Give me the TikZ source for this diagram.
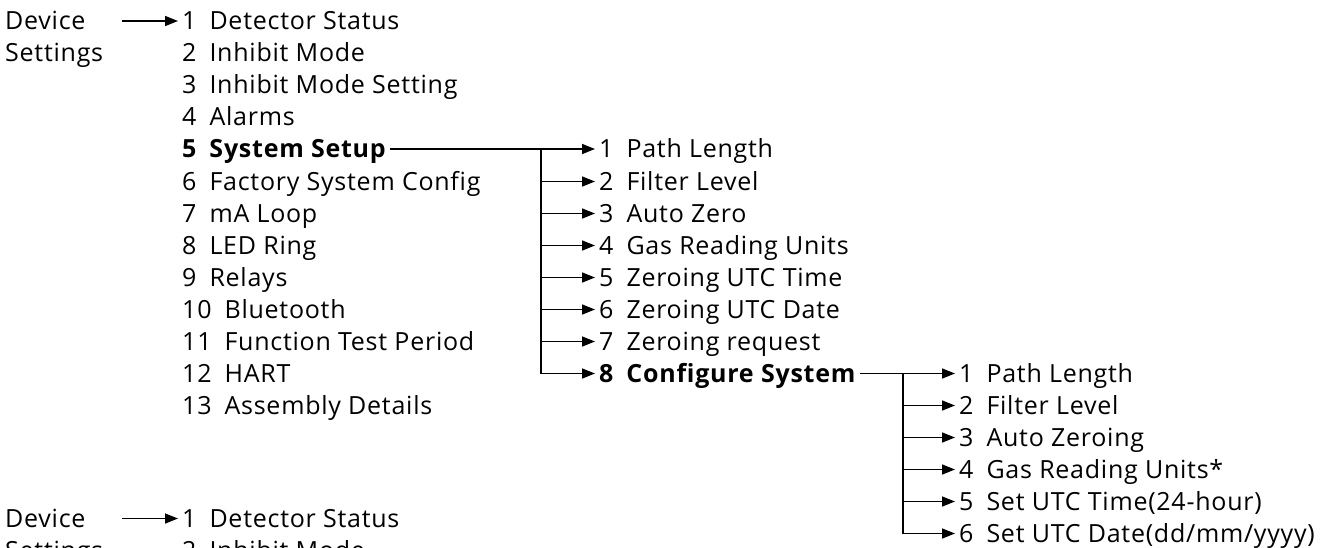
\documentclass[tikz,border=0pt]{standalone}
\usepackage{fontspec}
\setmainfont{Open Sans}[Ligatures=CommonOff,LetterSpace=3]
\usetikzlibrary{arrows.meta}

% number + gap + label
\newcommand{\itm}[2]{#1\hspace{0.52em}#2}

\tikzset{
  menutxt/.style={anchor=base west, inner xsep=4pt, inner ysep=0pt,
    text height=17pt, text depth=0pt, font=\fontsize{25}{30}\selectfont},
  menubold/.style={menutxt, font=\fontsize{25}{30}\selectfont\bfseries},
  link/.style={line width=1.5pt},
}

\begin{document}
\begin{tikzpicture}[x=1pt,y=-1pt,>={Triangle[length=13pt,width=10pt]}]
  \useasboundingbox (0,0) rectangle (1344,547);
  \clip (0,0) rectangle (1344,547);

  % first level
  \node[menutxt] (dev) at (1,29.5) {Device};
  \node[menutxt] (sett) at (1,61.5) {Settings};
  \node[menutxt] (d1) at (178,29.5) {\itm{1}{Detector Status}};
  \node[menutxt] (d2) at (178,61.5) {\itm{2}{Inhibit Mode}};
  \node[menutxt] (d3) at (178,93.5) {\itm{3}{Inhibit Mode Setting}};
  \node[menutxt] (d4) at (178,125.5) {\itm{4}{Alarms}};
  \node[menubold] (ss) at (178,157.5) {\itm{5}{System Setup}};
  \node[menutxt] (d6) at (178,190) {\itm{6}{Factory System Config}};
  \node[menutxt] (d7) at (178,222) {\itm{7}{mA Loop}};
  \node[menutxt] (d8) at (178,254) {\itm{8}{LED Ring}};
  \node[menutxt] (d9) at (178,286) {\itm{9}{Relays}};
  \node[menutxt] (d10) at (178,318) {\itm{10}{Bluetooth}};
  \node[menutxt] (d11) at (178,350) {\itm{11}{Function Test Period}};
  \node[menutxt] (d12) at (178,382) {\itm{12}{HART}};
  \node[menutxt] (d13) at (178,414) {\itm{13}{Assembly Details}};
  \coordinate (a0) at (122,21);
  \draw[link,->] (a0) -- (a0 -| d1.west);

  % System Setup
  \node[menutxt] (p1) at (595,157.5) {\itm{1}{Path Length}};
  \node[menutxt] (p2) at (595,190) {\itm{2}{Filter Level}};
  \node[menutxt] (p3) at (595,222) {\itm{3}{Auto Zero}};
  \node[menutxt] (p4) at (595,254) {\itm{4}{Gas Reading Units}};
  \node[menutxt] (p5) at (595,286) {\itm{5}{Zeroing UTC Time}};
  \node[menutxt] (p6) at (595,318) {\itm{6}{Zeroing UTC Date}};
  \node[menutxt] (p7) at (595,350) {\itm{7}{Zeroing request}};
  \node[menubold] (cs) at (595,382) {\itm{8}{Configure System}};
  \coordinate (j1) at (541,149);
  \draw[link] (ss.east) -- (j1);
  \draw[link,->] (j1) -- (p1.west);
  \draw[link,->] (j1) |- (cs.west);
  \draw[link,->] (j1 |- p2.west) -- (p2.west);
  \draw[link,->] (j1 |- p3.west) -- (p3.west);
  \draw[link,->] (j1 |- p4.west) -- (p4.west);
  \draw[link,->] (j1 |- p5.west) -- (p5.west);
  \draw[link,->] (j1 |- p6.west) -- (p6.west);
  \draw[link,->] (j1 |- p7.west) -- (p7.west);

  % Configure System
  \node[menutxt] (c1) at (955,382) {\itm{1}{Path Length}};
  \node[menutxt] (c2) at (955,414) {\itm{2}{Filter Level}};
  \node[menutxt] (c3) at (955,446) {\itm{3}{Auto Zeroing}};
  \node[menutxt] (c4) at (955,478) {\itm{4}{Gas Reading Units*}};
  \node[menutxt] (c5) at (955,510) {\itm{5}{Set UTC Time(24-hour)}};
  \node[menutxt] (c6) at (955,542) {\itm{6}{Set UTC Date(dd/mm/yyyy)}};
  \coordinate (j2) at (903,373.5);
  \draw[link] (cs.east) -- (j2);
  \draw[link,->] (j2) -- (c1.west);
  \draw[link,->] (j2) |- (c6.west);
  \draw[link,->] (j2 |- c2.west) -- (c2.west);
  \draw[link,->] (j2 |- c3.west) -- (c3.west);
  \draw[link,->] (j2 |- c4.west) -- (c4.west);
  \draw[link,->] (j2 |- c5.west) -- (c5.west);

  % repeated top, cut by the page edge
  \node[menutxt] (dev2) at (1,527) {Device};
  \node[menutxt] (sett2) at (1,559) {Settings};
  \node[menutxt] (e1) at (178,527) {\itm{1}{Detector Status}};
  \node[menutxt] (e2) at (178,559) {\itm{2}{Inhibit Mode}};
  \coordinate (a1) at (122,518.5);
  \draw[link,->] (a1) -- (a1 -| e1.west);
\end{tikzpicture}
\end{document}
